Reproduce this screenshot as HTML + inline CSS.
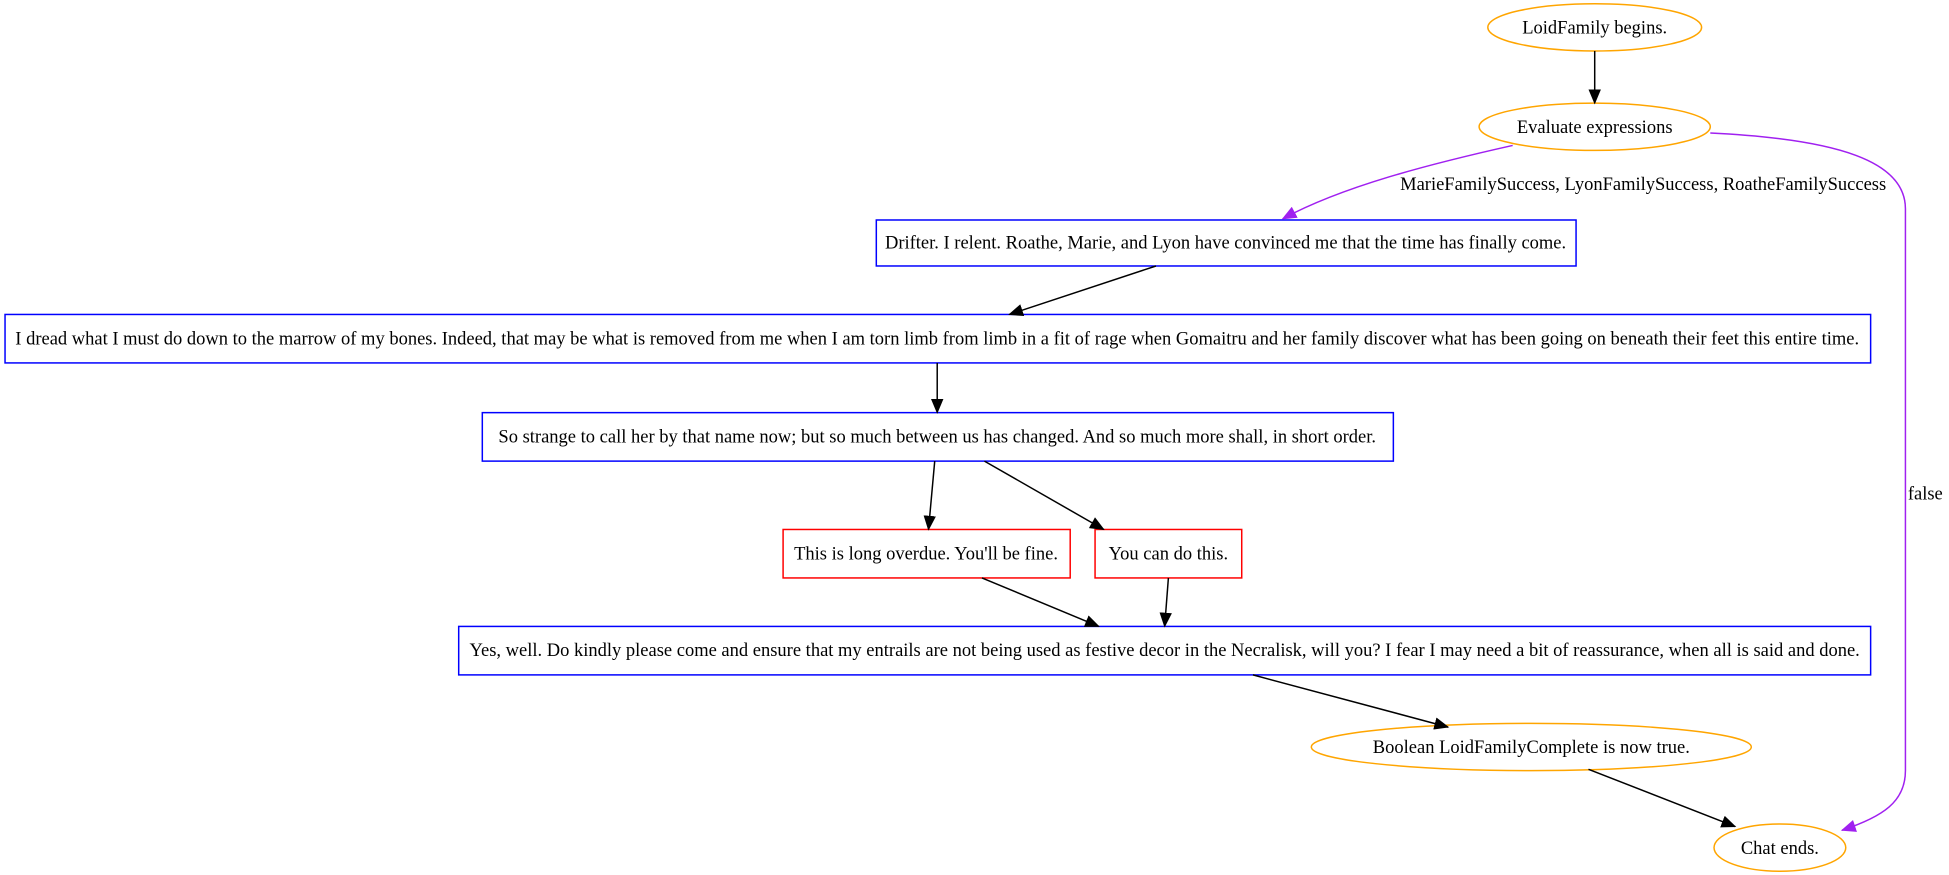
<!DOCTYPE html>
<html><head><meta charset="utf-8"><style>html,body{margin:0;padding:0;background:#fff;}svg{display:block}</style></head>
<body>
<svg width="1949" height="875" viewBox="0 0 1568 704" xmlns="http://www.w3.org/2000/svg" font-family="'Liberation Serif', serif" font-size="14.9">
<defs>
<marker id="ab" markerWidth="12" markerHeight="10" refX="11" refY="5" orient="auto" markerUnits="userSpaceOnUse"><path d="M0,0 L12,5 L0,10 z" fill="#000"/></marker>
<marker id="ap" markerWidth="12" markerHeight="10" refX="11" refY="5" orient="auto" markerUnits="userSpaceOnUse"><path d="M0,0 L12,5 L0,10 z" fill="#a020f0"/></marker>
</defs>
<g fill="none" stroke-width="1.2">
<ellipse cx="1283" cy="22" rx="86" ry="19" stroke="orange"/>
<ellipse cx="1283" cy="102" rx="93" ry="19" stroke="orange"/>
<rect x="705" y="177" width="563" height="37" stroke="blue"/>
<rect x="4" y="253" width="1501" height="39" stroke="blue"/>
<rect x="388" y="332" width="733" height="39" stroke="blue"/>
<rect x="630" y="426" width="231" height="39" stroke="red"/>
<rect x="881" y="426" width="118" height="39" stroke="red"/>
<rect x="369" y="504" width="1136" height="39" stroke="blue"/>
<ellipse cx="1232" cy="601" rx="177" ry="19" stroke="orange"/>
<ellipse cx="1432" cy="682" rx="53" ry="19" stroke="orange"/>
</g>
<g fill="none" stroke="#000" stroke-width="1.2" marker-end="url(#ab)">
<path d="M1283,41 L1283,83"/>
<path d="M930,214 L812,253"/>
<path d="M754,292 L754,332"/>
<path d="M752,371 L747,426"/>
<path d="M792,371 L888,426"/>
<path d="M790,465 L884,504"/>
<path d="M940,465 L937,504"/>
<path d="M1008,543 L1165,585"/>
<path d="M1278,619 L1396,665"/>
</g>
<g fill="none" stroke="#a020f0" stroke-width="1.2" marker-end="url(#ap)">
<path d="M1217,117 C1150,132 1080,150 1032,176"/>
<path d="M1376,107 C1480,112 1533,130 1533,168 L1533,620 C1533,645 1515,657 1482,668"/>
</g>
<g text-anchor="middle" fill="#000">
<text x="1283" y="27">LoidFamily begins.</text>
<text x="1283" y="107">Evaluate expressions</text>
<text x="986" y="200">Drifter. I relent. Roathe, Marie, and Lyon have convinced me that the time has finally come.</text>
<text x="754" y="277">I dread what I must do down to the marrow of my bones. Indeed, that may be what is removed from me when I am torn limb from limb in a fit of rage when Gomaitru and her family discover what has been going on beneath their feet this entire time.</text>
<text x="754" y="356">So strange to call her by that name now; but so much between us has changed. And so much more shall, in short order.</text>
<text x="745" y="450">This is long overdue. You'll be fine.</text>
<text x="940" y="450">You can do this.</text>
<text x="937" y="528">Yes, well. Do kindly please come and ensure that my entrails are not being used as festive decor in the Necralisk, will you? I fear I may need a bit of reassurance, when all is said and done.</text>
<text x="1232" y="606">Boolean LoidFamilyComplete is now true.</text>
<text x="1432" y="687">Chat ends.</text>
<text x="1322" y="153">MarieFamilySuccess, LyonFamilySuccess, RoatheFamilySuccess</text>
<text x="1549" y="402">false</text>
</g>
</svg>
</body></html>
